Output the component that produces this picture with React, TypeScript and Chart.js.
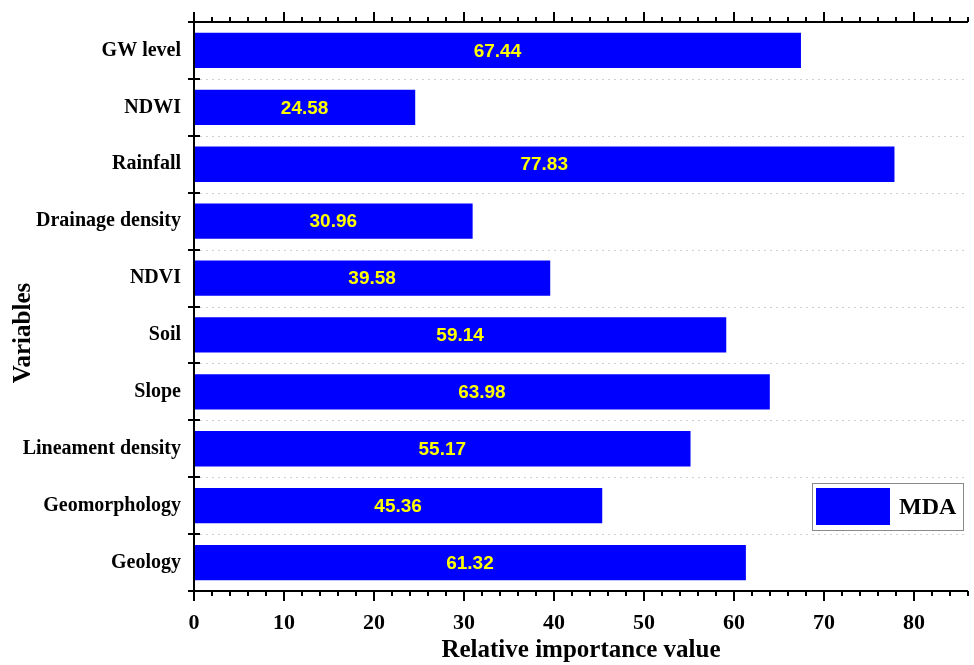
import React, { useEffect, useRef } from "react";
import { Chart, registerables } from "chart.js";

Chart.register(...registerables);

const categories = [
  "GW level",
  "NDWI",
  "Rainfall",
  "Drainage density",
  "NDVI",
  "Soil",
  "Slope",
  "Lineament density",
  "Geomorphology",
  "Geology",
];
const mdaValues = [67.44, 24.58, 77.83, 30.96, 39.58, 59.14, 63.98, 55.17, 45.36, 61.32];
const seriesName = "MDA";
const xMin = 0;
const xMax = 86;
const majorStep = 10;
const minorStep = 2;
const xTitle = "Relative importance value";
const yTitle = "Variables";

const serif = "'Times New Roman', 'Liberation Serif', 'DejaVu Serif', serif";
const sans = "Arial, 'Liberation Sans', sans-serif";

const customPlugin = {
  id: "customDraw",
  beforeDatasetsDraw(chart: any) {
    const ctx = chart.ctx;
    const area = chart.chartArea;
    const y = chart.scales.y;
    ctx.save();
    ctx.strokeStyle = "#d0d0d0";
    ctx.lineWidth = 1;
    ctx.setLineDash([2, 4]);
    for (let i = 1; i < categories.length; i++) {
      const py = Math.round((y.getPixelForTick(i - 1) + y.getPixelForTick(i)) / 2) + 0.5;
      ctx.beginPath();
      ctx.moveTo(area.left, py);
      ctx.lineTo(area.right, py);
      ctx.stroke();
    }
    ctx.restore();
  },
  afterDraw(chart: any) {
    const ctx = chart.ctx;
    const area = chart.chartArea;
    const x = chart.scales.x;
    const y = chart.scales.y;
    ctx.save();
    ctx.strokeStyle = "#000";
    ctx.lineWidth = 2;
    ctx.setLineDash([]);
    ctx.beginPath();
    ctx.moveTo(area.left, area.top);
    ctx.lineTo(area.right, area.top);
    ctx.moveTo(area.left, area.bottom);
    ctx.lineTo(area.right, area.bottom);
    ctx.moveTo(area.left, area.top);
    ctx.lineTo(area.left, area.bottom);
    ctx.stroke();
    for (let v = xMin; v <= xMax + 1e-9; v += minorStep) {
      const px = Math.round(x.getPixelForValue(v));
      const major = Math.abs(v % majorStep) < 1e-9;
      const len = major ? 10 : 5;
      ctx.beginPath();
      ctx.moveTo(px, area.bottom);
      ctx.lineTo(px, area.bottom + len);
      ctx.moveTo(px, area.top);
      ctx.lineTo(px, area.top - len);
      ctx.stroke();
    }
    const bounds: number[] = [];
    for (let i = 0; i <= categories.length; i++) {
      let py;
      if (i === 0) py = area.top;
      else if (i === categories.length) py = area.bottom;
      else py = (y.getPixelForTick(i - 1) + y.getPixelForTick(i)) / 2;
      bounds.push(py);
    }
    bounds.forEach((py) => {
      ctx.beginPath();
      ctx.moveTo(area.left - 6, Math.round(py));
      ctx.lineTo(area.left + 6, Math.round(py));
      ctx.stroke();
    });
    const meta = chart.getDatasetMeta(0);
    ctx.fillStyle = "#ffff00";
    ctx.font = `bold 19px ${sans}`;
    ctx.textAlign = "center";
    ctx.textBaseline = "middle";
    meta.data.forEach((bar: any, i: number) => {
      const cx = (bar.x + bar.base) / 2;
      ctx.fillText(mdaValues[i].toFixed(2), cx, bar.y + 1);
    });
    ctx.fillStyle = "#000";
    ctx.font = `bold 25px ${serif}`;
    ctx.textAlign = "center";
    ctx.textBaseline = "middle";
    ctx.fillText(xTitle, (area.left + area.right) / 2, 651);
    ctx.save();
    ctx.translate(24, 333);
    ctx.rotate(-Math.PI / 2);
    ctx.fillText(yTitle, 0, 0);
    ctx.restore();
    const lx = 812, ly = 483, lw = 151, lh = 47;
    ctx.strokeStyle = "#8a8a8a";
    ctx.lineWidth = 1;
    ctx.fillStyle = "#fff";
    ctx.fillRect(lx, ly, lw, lh);
    ctx.strokeRect(lx + 0.5, ly + 0.5, lw, lh);
    ctx.fillStyle = "#0000ff";
    ctx.fillRect(816, 488, 74, 37);
    ctx.fillStyle = "#000";
    ctx.font = `bold 24px ${serif}`;
    ctx.textAlign = "left";
    ctx.fillText(seriesName, 899, 508);
    ctx.restore();
  },
};

export default function App() {
  const canvasRef = useRef<HTMLCanvasElement | null>(null);

  useEffect(() => {
    if (!canvasRef.current) return;
    const chart = new Chart(canvasRef.current, {
      type: "bar",
      data: {
        labels: categories,
        datasets: [
          {
            label: seriesName,
            data: mdaValues,
            backgroundColor: "#0000ff",
            borderWidth: 0,
            barPercentage: 0.62,
            categoryPercentage: 1,
          },
        ],
      },
      options: {
        indexAxis: "y",
        animation: false,
        responsive: false,
        maintainAspectRatio: false,
        devicePixelRatio: 1,
        layout: { padding: { top: 22, right: 6, left: 0, bottom: 0 } },
        plugins: {
          legend: { display: false },
          tooltip: { enabled: false },
          title: { display: false },
        },
        scales: {
          x: {
            type: "linear",
            position: "bottom",
            min: xMin,
            max: xMax,
            grid: { display: false },
            border: { display: false },
            ticks: {
              stepSize: majorStep,
              includeBounds: false,
              color: "#000",
              padding: 11,
              font: { family: serif, size: 22, weight: "bold" },
              maxRotation: 0,
              callback: (v: any) => (Number(v) % majorStep === 0 ? String(v) : ""),
            },
            afterFit: (s: any) => {
              s.height = 74;
            },
          },
          y: {
            type: "category",
            grid: { display: false, offset: true },
            border: { display: false },
            offset: true,
            ticks: {
              color: "#000",
              padding: 5,
              font: { family: serif, size: 20, weight: "bold" },
            },
            afterFit: (s: any) => {
              s.width = 194;
            },
          },
        },
      },
      plugins: [customPlugin],
    });
    return () => chart.destroy();
  }, []);

  return (
    <div style={{ position: "fixed", left: 0, top: 0, width: 974, height: 665, background: "#fff" }}>
      <canvas ref={canvasRef} width={974} height={665} style={{ width: 974, height: 665 }} />
    </div>
  );
}
